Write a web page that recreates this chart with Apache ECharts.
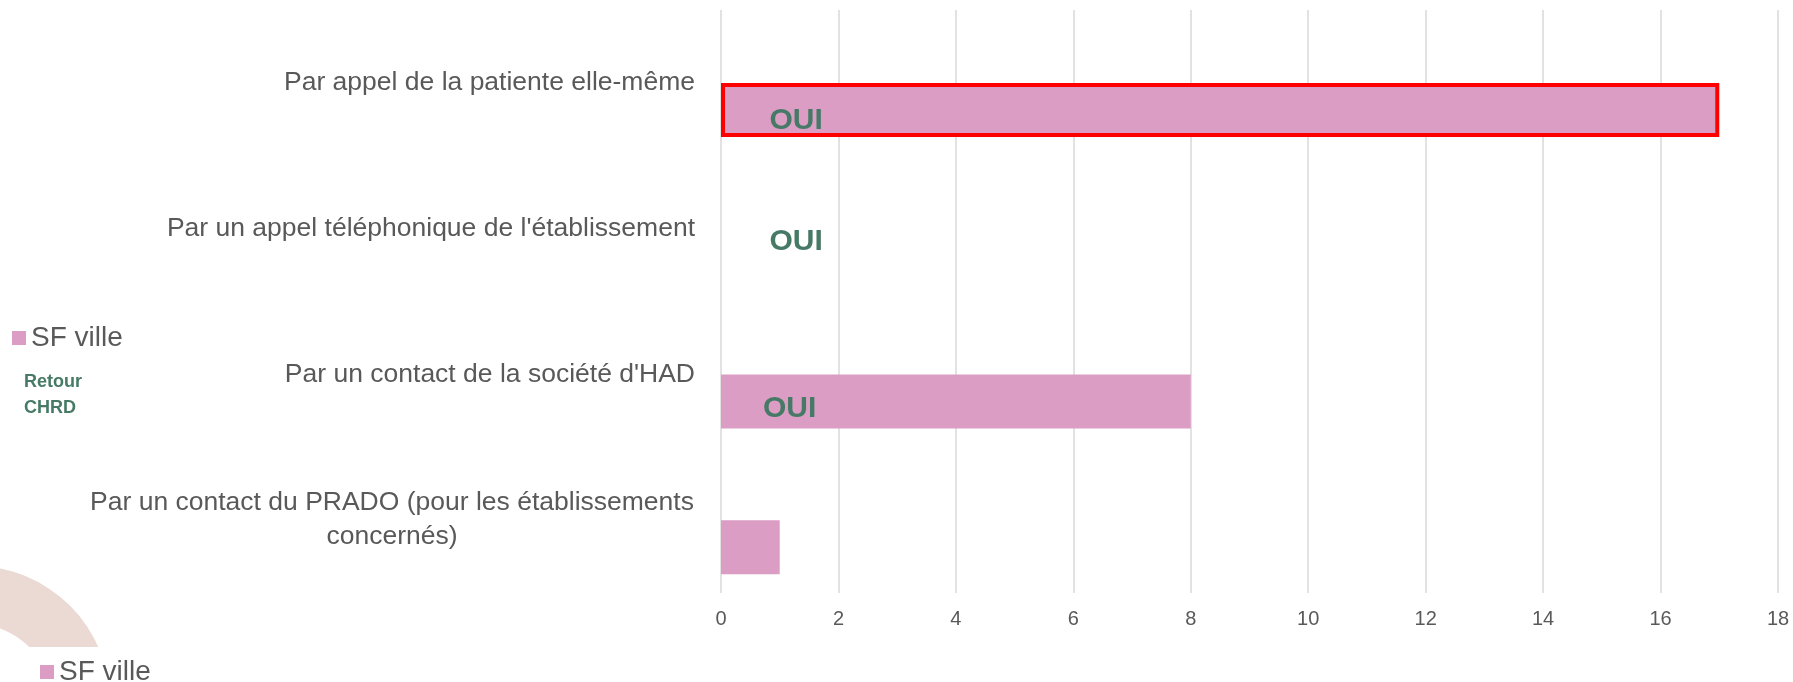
<!DOCTYPE html>
<html>
<head>
<meta charset="utf-8">
<script src="https://cdn.jsdelivr.net/npm/echarts@6/dist/echarts.min.js"></script>
<style>
html,body{margin:0;padding:0;background:#fff;}
#chart{width:1793px;height:682px;}
</style>
</head>
<body>
<div id="chart"></div>
<script>
const categories = [
  "Par appel de la patiente elle-même",
  "Par un appel téléphonique de l'établissement",
  "Par un contact de la société d'HAD",
  "Par un contact du PRADO (pour les établissements\nconcernés)"
];
const sfVille = [17, 0, 8, 1];
const retourCHRD = [0, 0, 0, 0];
const ouiLabels = ["OUI", "OUI", "OUI"];
const ouiX = [1.28, 1.28, 1.17];
const ouiCat = [0, 1, 2];
const xTicks = [0, 2, 4, 6, 8, 10, 12, 14, 16, 18];

const FONT = "'Liberation Sans', Arial, sans-serif";
const GREY = '#595959';
const GREEN = '#477A66';
const PINK = '#DB9DC4';

const ouiOffsets = [[0, 38], [0, 13], [0, 34]];

const chart = echarts.init(document.getElementById('chart'));
chart.setOption({
  backgroundColor: '#ffffff',
  animation: false,
  textStyle: { fontFamily: FONT },
  graphic: [
    { type: 'ring', z: -10, silent: true,
      shape: { cx: -26, cy: 702, r: 136, r0: 78 },
      style: { fill: '#EBDAD3' } },
    { type: 'rect', z: -9, silent: true,
      shape: { x: 0, y: 647, width: 140, height: 40 },
      style: { fill: '#ffffff' } }
  ],
  legend: [
    { data: ['SF ville'], left: 12, top: 324, padding: 0, icon: 'rect',
      itemWidth: 14, itemHeight: 14,
      textStyle: { fontSize: 28, color: GREY, fontFamily: FONT } },
    { data: ['SF ville'], left: 40, top: 658, padding: 0, icon: 'rect',
      itemWidth: 14, itemHeight: 14,
      textStyle: { fontSize: 28, color: GREY, fontFamily: FONT } },
    { data: ['Retour CHRD'], left: 19, top: 369, padding: 0, icon: 'rect',
      itemWidth: 0, itemHeight: 0,
      formatter: function (n) { return n.replace(' ', '\n'); },
      textStyle: { fontSize: 18, lineHeight: 26, fontWeight: 'bold', color: GREEN, fontFamily: FONT } }
  ],
  grid: { left: 721, right: 15, top: 10, bottom: 89, containLabel: false },
  xAxis: {
    type: 'value', min: 0, max: 18, interval: 2,
    axisLine: { show: false }, axisTick: { show: false },
    splitLine: { show: true, lineStyle: { color: '#D9D9D9', width: 1.5 } },
    axisLabel: { fontSize: 20, color: GREY, margin: 16, fontFamily: FONT,
      formatter: function (v) { return xTicks.indexOf(v) >= 0 ? String(v) : ''; } }
  },
  yAxis: {
    type: 'category', data: categories, inverse: true,
    axisLine: { show: false }, axisTick: { show: false },
    splitLine: { show: false },
    axisLabel: {
      fontSize: 26.5, color: GREY, margin: 26, fontFamily: FONT, lineHeight: 34,
      formatter: function (v) {
        if (v.indexOf('\n') >= 0) {
          return v.split('\n').map(function (s) { return '{c|' + s + '}'; }).join('\n');
        }
        return v;
      },
      rich: { c: { width: 606, align: 'center', fontSize: 26.5, color: GREY, lineHeight: 34, fontFamily: FONT } }
    }
  },
  series: [
    { name: 'Retour CHRD', type: 'bar', data: retourCHRD, barWidth: 54, barGap: '0%',
      itemStyle: { color: GREEN } },
    { name: 'SF ville', type: 'bar', barWidth: 54, barGap: '0%',
      data: sfVille.map(function (v, i) {
        return i === 0
          ? { value: v, itemStyle: { borderColor: '#FF0000', borderWidth: 4 } }
          : v;
      }),
      itemStyle: { color: PINK } },
    { name: 'OUI', type: 'scatter', symbolSize: 0, silent: true, z: 5,
      itemStyle: { opacity: 1 },
      data: ouiX.map(function (x, i) {
        return { value: [x, ouiCat[i]],
          label: { show: true, formatter: ouiLabels[i], offset: ouiOffsets[i] } };
      }),
      label: { position: 'inside', fontSize: 30, fontWeight: 'bold', color: GREEN, fontFamily: FONT, opacity: 1 } }
  ]
});
</script>
</body>
</html>
